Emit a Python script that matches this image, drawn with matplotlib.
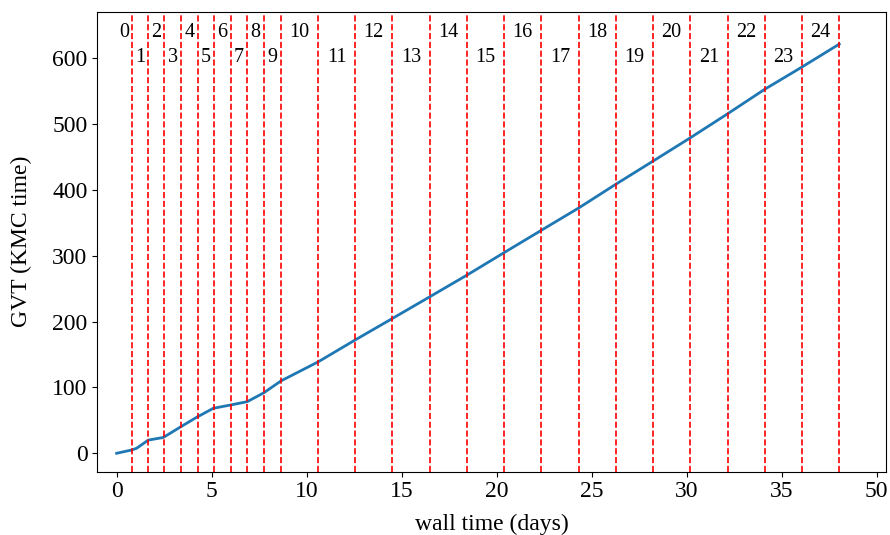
import matplotlib
matplotlib.use('Agg')
import matplotlib.pyplot as plt
import numpy as np

# wall time (days) at which each run segment ended
seg_ends = [0.79, 1.66, 2.51, 3.38, 4.26, 5.14, 6.00, 6.87, 7.75, 8.65,
            10.61, 12.54, 14.51, 16.47, 18.44, 20.38, 22.35, 24.32, 26.28,
            28.23, 30.17, 32.16, 34.10, 36.07, 38.03]

# GVT curve
wall_time = [0.0, 0.79, 1.05, 1.66, 2.45, 3.33, 4.21, 5.09, 6.00, 6.87,
             7.75, 8.65, 10.61, 12.54, 14.52, 16.49, 18.45, 20.38, 22.37,
             24.33, 26.28, 28.23, 30.17, 32.16, 34.10, 36.07, 38.03]
gvt = [0.0, 5.0, 7.6, 20.0, 24.0, 39.5, 54.7, 68.4, 73.4, 78.4,
       92.0, 110.0, 139.0, 172.0, 205.0, 238.0, 271.0, 304.7, 339.2,
       373.0, 409.0, 444.0, 479.0, 516.0, 553.0, 587.0, 621.8]

xticks = [0, 5, 10, 15, 20, 25, 30, 35, 40]
xtick_labels = ['0', '5', '10', '15', '20', '25', '30', '35', '50']

plt.rcParams['font.family'] = ['Liberation Serif', 'DejaVu Serif']
plt.rcParams['font.size'] = 17

fig = plt.figure(figsize=(8.9, 5.35), dpi=100)
ax = fig.add_axes([0.1093, 0.1183, 0.8862, 0.8598])

ax.plot(wall_time, gvt, color='#1f77b4', linewidth=2)

starts = [0.0] + seg_ends[:-1]
for i, (s, e) in enumerate(zip(starts, seg_ends)):
    ax.axvline(e, color='red', linestyle='--', linewidth=1.2)
    y = 640 if i % 2 == 0 else 601
    ax.text((s + e) / 2, y, str(i), ha='center', va='center', fontsize=14.5)

ax.set_xlim(-1.02, 40.49)
ax.set_ylim(-28, 671)
ax.set_xticks(xticks)
ax.set_xticklabels(xtick_labels)
ax.set_yticks([0, 100, 200, 300, 400, 500, 600])
ax.set_xlabel('wall time (days)')
ax.set_ylabel('GVT (KMC time)')
ax.xaxis.set_label_coords(0.5, -0.092)
ax.yaxis.set_label_coords(-0.083, 0.5)

fig.savefig('out.png', dpi=100)
